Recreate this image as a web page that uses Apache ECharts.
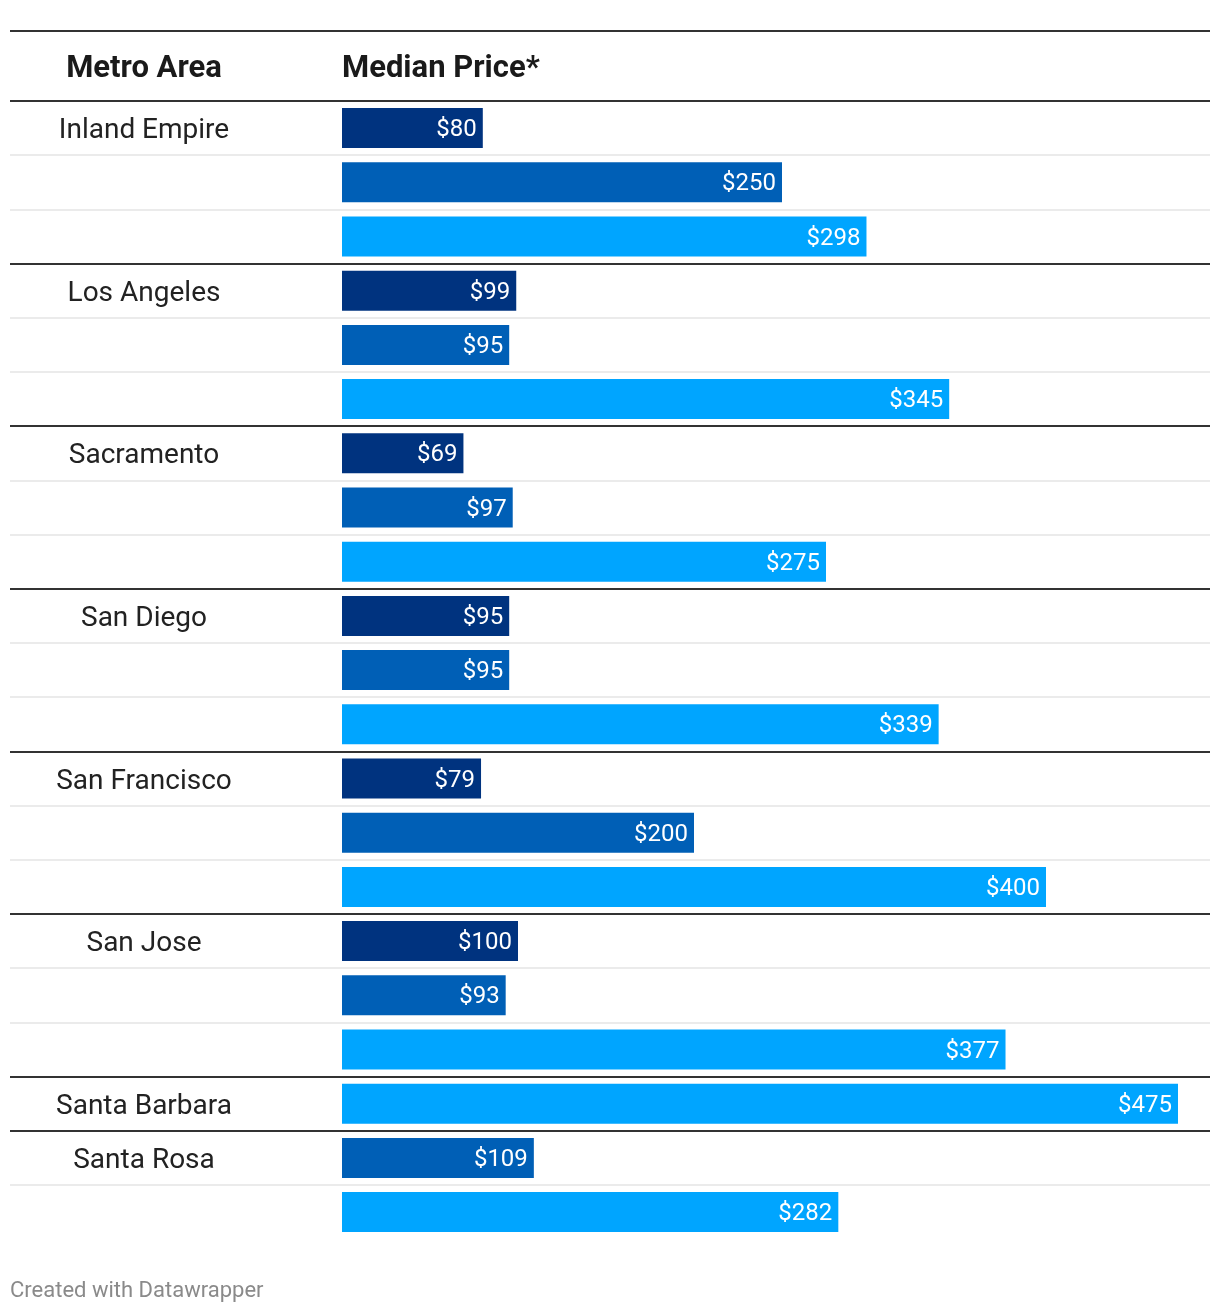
<!DOCTYPE html>
<html><head><meta charset="utf-8">
<script src="https://cdn.jsdelivr.net/npm/echarts@6/dist/echarts.min.js"></script>
<style>html,body{margin:0;padding:0;background:#fff}#c{width:1220px;height:1314px}</style>
</head><body><div id="c"></div>
<script>
const metros = ['Inland Empire','Los Angeles','Sacramento','San Diego','San Francisco','San Jose','Santa Barbara','Santa Rosa'];
const seriesA = [80, 99, 69, 95, 79, 100, null, null];
const seriesB = [250, 95, 97, 95, 200, 93, null, 109];
const seriesC = [298, 345, 275, 339, 400, 377, 475, 282];
const colors = ['#00337f', '#005fb6', '#00a5ff'];

const rows = [], rowLabels = [], rowIds = [], groupStarts = new Set();
metros.forEach((m, i) => {
  const vals = [seriesA[i], seriesB[i], seriesC[i]];
  let first = true;
  vals.forEach((v, j) => {
    if (v == null) return;
    if (first) groupStarts.add(rows.length);
    rowLabels.push(first ? m : '');
    rowIds.push('r' + rows.length);
    rows.push({ value: v, itemStyle: { color: colors[j] } });
    first = false;
  });
});
const N = rows.length;
const light = [], dark = [];
for (let k = 0; k <= N; k++) {
  const g = groupStarts.has(k);
  dark.push(g ? '#333333' : 'rgba(0,0,0,0)');
  light.push(!g && k < N ? '#ebebeb' : 'rgba(0,0,0,0)');
}
const pxPer = 1.76;
const chart = echarts.init(document.getElementById('c'), null, { renderer: 'canvas' });
chart.setOption({
  animation: false,
  backgroundColor: '#ffffff',
  grid: { left: 10, right: 10, top: 101, height: N * 54.2, containLabel: false },
  xAxis: { type: 'value', min: -(342 - 10) / pxPer, max: (1210 - 342) / pxPer, show: false, splitLine: { show: false } },
  yAxis: [
    { type: 'category', data: rowIds, inverse: true, position: 'left',
      axisLine: { show: false }, axisTick: { show: false },
      axisLabel: { inside: true, align: 'center', margin: 134, fontFamily: 'Roboto', fontSize: 28, color: '#222222',
        formatter: (v, idx) => rowLabels[idx] ? '{m|' + rowLabels[idx] + '}' : '',
        rich: { m: { fontFamily: 'Roboto', fontSize: 28, color: '#222222', padding: [6, 0, 0, 0] } } },
      splitLine: { show: true, lineStyle: { color: light, width: 2 } } },
    { type: 'category', data: rowIds, inverse: true, position: 'right',
      axisLine: { show: false }, axisTick: { show: false }, axisLabel: { show: false },
      splitLine: { show: true, lineStyle: { color: dark, width: 2 } } }
  ],
  series: [{
    type: 'bar', data: rows, barWidth: 40, yAxisIndex: 0,
    label: { show: true, position: 'insideRight', distance: 6, offset: [0, 2], color: '#ffffff', fontFamily: 'Roboto', fontSize: 24,
      formatter: p => '$' + p.value }
  }],
  graphic: [
    { type: 'line', shape: { x1: 10, y1: 31, x2: 1210, y2: 31 }, style: { stroke: '#333333', lineWidth: 2 } },
    { type: 'text', x: 144, y: 69, style: { text: 'Metro Area', font: 'bold 31px Roboto', fill: '#1a1a1a', textAlign: 'center', textVerticalAlign: 'middle' } },
    { type: 'text', x: 342, y: 69, style: { text: 'Median Price*', font: 'bold 31px Roboto', fill: '#1a1a1a', textAlign: 'left', textVerticalAlign: 'middle' } },
    { type: 'text', x: 10, y: 1291, style: { text: 'Created with Datawrapper', font: '22px Roboto', fill: '#8a8a8a', textAlign: 'left', textVerticalAlign: 'middle' } }
  ]
});
</script></body></html>
